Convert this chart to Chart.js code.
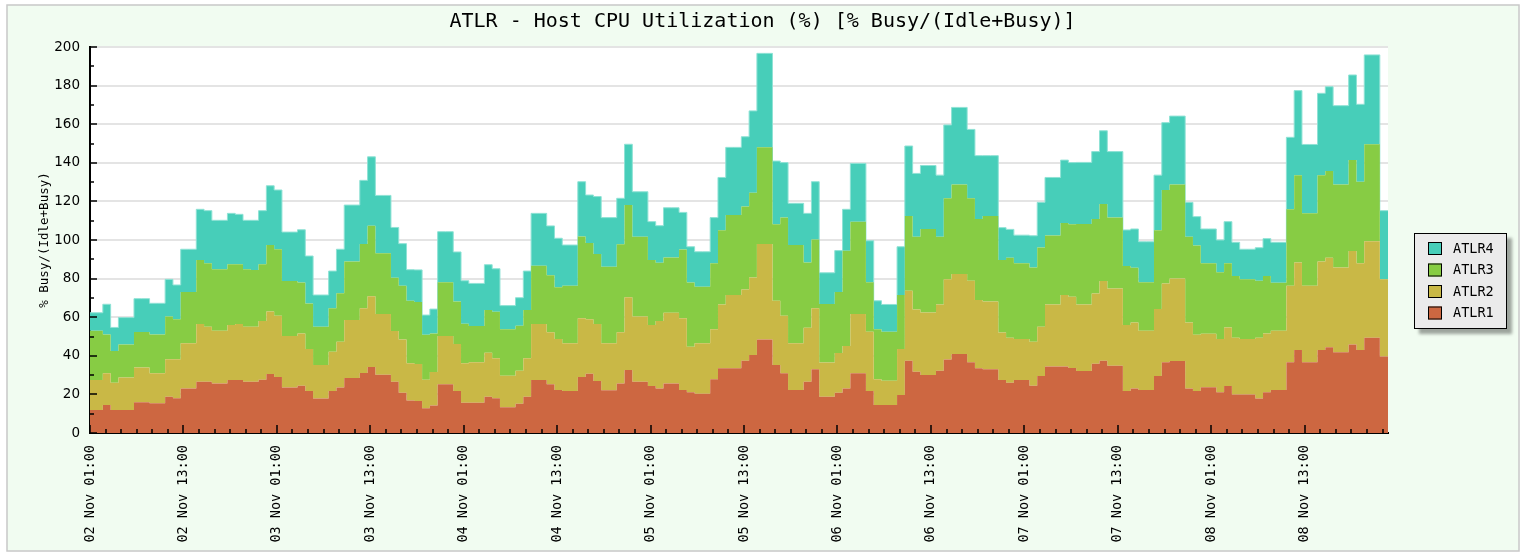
<!DOCTYPE html>
<html>
<head>
<meta charset="utf-8">
<title>ATLR - Host CPU Utilization</title>
<script src="https://cdn.jsdelivr.net/npm/chart.js@4.4.1/dist/chart.umd.min.js"></script>
<style>
  html, body { margin: 0; padding: 0; background: #fff; }
  #wrap { width: 1525px; height: 555px; }
</style>
</head>
<body>
<div id="wrap"><canvas id="cpu-chart" width="1525" height="555"></canvas></div>
<script>
// hourly samples, 02 Nov 01:00 onwards
const atlr1 = [
  11.9, 11.9, 14.5, 11.9, 11.9, 11.9, 15.9, 15.9, 15.4, 15.4, 18.8, 18.0, 23.1, 23.1, 26.6, 26.6, 25.7, 25.7, 27.4, 27.4,
  26.6, 26.6, 27.6, 30.6, 29.0, 23.6, 23.6, 24.5, 21.8, 17.9, 17.9, 21.8, 23.6, 28.5, 28.5, 31.1, 34.2, 30.2, 30.2, 26.6,
  20.9, 16.8, 16.6, 12.8, 14.3, 25.2, 25.2, 21.8, 15.7, 15.7, 15.7, 18.8, 18.0, 13.3, 13.3, 15.2, 18.8, 27.5, 27.5, 25.2,
  22.3, 21.8, 21.8, 29.0, 30.7, 27.0, 22.1, 22.1, 25.6, 32.6, 26.6, 26.6, 24.4, 23.1, 25.7, 25.7, 22.3, 21.1, 20.4, 20.4,
  27.8, 33.5, 33.5, 33.5, 37.5, 40.4, 48.5, 48.5, 35.2, 30.9, 22.3, 22.3, 26.6, 33.0, 18.8, 18.8, 20.9, 23.1, 30.9, 30.9,
  21.8, 14.5, 14.5, 14.5, 19.7, 37.5, 31.8, 30.1, 30.1, 32.3, 38.1, 40.9, 40.9, 36.6, 33.5, 33.0, 33.0, 27.5, 26.1, 27.5,
  27.5, 24.5, 29.5, 34.4, 34.4, 34.4, 33.7, 32.1, 32.1, 35.9, 37.5, 34.8, 34.8, 21.8, 23.1, 22.3, 22.3, 29.5, 36.6, 37.3,
  37.3, 23.1, 21.8, 23.7, 23.7, 21.1, 24.4, 20.0, 20.0, 20.0, 17.9, 21.1, 22.3, 22.3, 36.6, 43.0, 36.6, 36.6, 43.0, 44.4,
  41.8, 41.8, 45.9, 43.0, 49.4, 49.4, 39.6
];
const atlr2 = [
  15.6, 15.6, 16.4, 14.2, 16.9, 16.9, 18.0, 18.0, 15.5, 15.5, 19.4, 20.2, 23.4, 23.4, 29.9, 28.5, 27.3, 27.3, 28.6, 29.1,
  28.5, 28.5, 30.4, 32.3, 31.8, 26.6, 26.6, 27.1, 21.7, 17.3, 17.3, 20.3, 23.7, 30.0, 30.0, 33.5, 36.7, 31.4, 31.4, 26.3,
  27.6, 19.3, 19.2, 14.8, 17.3, 25.0, 25.0, 24.3, 20.4, 20.9, 20.9, 22.8, 20.7, 16.3, 16.3, 17.1, 19.9, 29.0, 29.0, 27.0,
  26.4, 24.7, 24.7, 30.4, 28.2, 29.5, 24.4, 24.4, 26.6, 37.7, 33.7, 33.7, 31.5, 34.9, 36.6, 36.6, 37.1, 23.6, 26.1, 26.1,
  25.9, 33.1, 38.0, 38.0, 36.9, 40.2, 49.4, 49.4, 33.3, 29.9, 24.2, 24.2, 27.9, 31.6, 17.7, 17.7, 20.6, 22.0, 30.7, 30.7,
  30.7, 13.3, 12.6, 12.6, 23.8, 36.2, 32.2, 32.4, 32.4, 34.3, 41.5, 41.5, 41.5, 42.3, 35.4, 35.1, 35.1, 24.6, 23.2, 21.2,
  21.2, 22.8, 25.6, 32.2, 32.2, 37.1, 36.9, 34.5, 34.5, 36.4, 41.3, 40.1, 40.1, 34.2, 34.1, 30.7, 30.7, 34.7, 40.9, 42.8,
  42.8, 34.1, 29.1, 27.7, 27.7, 27.6, 30.3, 29.4, 28.7, 28.7, 31.5, 30.5, 30.7, 30.7, 39.7, 45.4, 39.7, 39.7, 45.8, 46.4,
  44.0, 44.0, 48.4, 45.0, 50.0, 50.0, 40.0
];
const atlr3 = [
  25.5, 25.5, 20.2, 16.4, 17.1, 17.1, 18.4, 18.4, 20.1, 20.1, 22.1, 20.7, 26.6, 26.6, 33.1, 32.8, 31.8, 31.8, 31.4, 30.9,
  29.7, 29.4, 29.4, 34.5, 34.4, 28.5, 28.5, 26.4, 23.6, 19.9, 19.9, 22.5, 25.1, 30.3, 30.3, 33.3, 36.5, 31.5, 31.5, 27.6,
  27.8, 32.4, 32.1, 23.3, 20.0, 27.9, 27.9, 22.0, 20.5, 18.8, 18.8, 22.1, 24.1, 24.1, 24.1, 23.3, 25.0, 30.1, 30.1, 29.5,
  26.8, 29.8, 29.8, 42.4, 39.5, 36.2, 39.7, 39.7, 45.6, 47.8, 41.4, 41.4, 33.7, 30.2, 28.6, 28.6, 35.7, 33.3, 29.3, 29.3,
  34.2, 38.5, 41.5, 41.5, 43.0, 43.9, 50.1, 50.1, 39.6, 50.8, 50.9, 50.9, 33.8, 35.7, 30.3, 30.3, 31.6, 49.3, 47.9, 47.9,
  25.6, 25.9, 25.4, 25.4, 28.0, 38.7, 37.7, 43.2, 43.2, 35.1, 42.0, 46.4, 46.4, 42.7, 42.0, 44.3, 44.3, 37.5, 41.5, 39.2,
  39.2, 38.5, 41.0, 35.7, 35.7, 37.3, 37.5, 41.7, 41.7, 38.6, 39.9, 36.7, 36.7, 30.5, 28.4, 25.1, 25.1, 40.9, 48.4, 48.7,
  48.7, 44.5, 46.2, 36.5, 36.5, 34.6, 33.2, 31.9, 30.9, 30.9, 29.5, 29.7, 24.9, 24.9, 39.6, 45.2, 37.5, 37.5, 44.8, 44.9,
  43.0, 43.0, 47.1, 42.2, 50.2, 50.2, 0
];
const atlr4 = [
  9.3, 9.3, 15.6, 12.2, 13.9, 13.9, 17.3, 17.3, 16.2, 16.2, 19.3, 17.8, 22.1, 22.1, 26.3, 27.3, 25.4, 25.4, 26.4, 25.9,
  25.4, 25.7, 27.8, 30.7, 30.7, 25.4, 25.4, 27.3, 24.6, 16.4, 16.4, 19.3, 22.8, 29.3, 29.3, 33.0, 35.7, 30.0, 30.0, 26.0,
  21.8, 16.1, 16.6, 10.2, 12.6, 26.2, 26.2, 25.7, 22.3, 22.1, 22.1, 23.5, 22.3, 12.3, 12.3, 14.5, 20.2, 27.2, 27.2, 25.6,
  25.4, 21.1, 21.1, 28.4, 24.9, 29.8, 25.4, 25.4, 23.8, 31.5, 23.3, 23.3, 19.9, 19.2, 25.8, 25.8, 19.2, 18.5, 18.1, 18.1,
  23.7, 27.3, 35.0, 35.0, 36.1, 42.4, 48.7, 48.7, 32.8, 28.5, 21.6, 21.6, 25.5, 29.9, 16.2, 16.2, 21.4, 21.5, 30.2, 30.2,
  21.5, 14.8, 14.1, 14.1, 25.0, 36.3, 32.8, 32.9, 32.9, 31.9, 38.0, 39.9, 39.9, 35.7, 32.8, 31.3, 31.3, 16.8, 14.7, 14.6,
  14.6, 16.4, 23.4, 30.1, 30.1, 32.6, 32.0, 31.9, 31.9, 34.9, 37.9, 34.2, 34.2, 18.7, 20.1, 21.0, 21.0, 28.5, 34.9, 35.4,
  35.4, 17.8, 15.0, 17.8, 17.8, 16.7, 21.6, 17.5, 15.6, 15.6, 17.1, 19.4, 20.9, 20.9, 37.3, 43.8, 35.7, 35.7, 42.4, 43.7,
  40.8, 40.8, 44.1, 40.1, 46.3, 46.3, 35.6
];

const seriesNames = ['ATLR1', 'ATLR2', 'ATLR3', 'ATLR4'];
const seriesColors = ['#cd6741', '#c9b846', '#87cc44', '#47ceb9'];
const xTickLabels = [
  '02 Nov 01:00', '02 Nov 13:00', '03 Nov 01:00', '03 Nov 13:00', '04 Nov 01:00', '04 Nov 13:00', '05 Nov 01:00',
  '05 Nov 13:00', '06 Nov 01:00', '06 Nov 13:00', '07 Nov 01:00', '07 Nov 13:00', '08 Nov 01:00', '08 Nov 13:00'
];

const HOURS_SPAN = 166.7;   // hours shown after 02 Nov 01:00
const SAMPLE_LEAD = 0.35;   // a sample holds from ~20 min before its hour

// x in hours since 02 Nov 01:00, last sample held to the right edge
const toPoints = (values) => {
  const pts = values.map((v, i) => ({ x: Math.max(0, i - SAMPLE_LEAD), y: v }));
  pts.push({ x: HOURS_SPAN, y: values[values.length - 1] });
  return pts;
};

const datasets = [atlr1, atlr2, atlr3, atlr4].map((values, i) => ({
  label: seriesNames[i],
  data: toPoints(values),
  backgroundColor: seriesColors[i],
  borderColor: i === 3 ? '#8fe2d5' : seriesColors[i],
  borderWidth: i === 3 ? 1 : 0,
  fill: i === 0 ? 'origin' : '-1',
  stepped: true,
  pointRadius: 0,
  tension: 0,
}));

// mint panel, grey frame, white plot
const framePlugin = {
  id: 'frame',
  beforeDraw(chart) {
    const { ctx, chartArea: a } = chart;
    ctx.save();
    ctx.fillStyle = '#ffffff';
    ctx.fillRect(0, 0, chart.width, chart.height);
    ctx.fillStyle = '#f1fcf1';
    ctx.fillRect(7, 5, chart.width - 13, chart.height - 9);
    ctx.strokeStyle = '#c8c8c8';
    ctx.lineWidth = 1.5;
    ctx.strokeRect(7, 5, chart.width - 13, chart.height - 9);
    ctx.fillStyle = '#ffffff';
    ctx.fillRect(a.left, a.top, a.right - a.left, a.bottom - a.top);
    ctx.restore();
  }
};

// small inward tick marks, longer on labelled ticks
const tickMarks = {
  id: 'tickMarks',
  afterDatasetsDraw(chart) {
    const { ctx, chartArea: a, scales: { x, y } } = chart;
    ctx.save();
    ctx.strokeStyle = '#000';
    ctx.lineWidth = 1.5;
    ctx.beginPath();
    x.ticks.forEach(t => {
      const px = Math.round(x.getPixelForValue(t.value));
      const len = t.value % 12 === 0 ? 8 : 4;
      ctx.moveTo(px, a.bottom);
      ctx.lineTo(px, a.bottom - len);
    });
    y.ticks.forEach(t => {
      const py = Math.round(y.getPixelForValue(t.value));
      const len = t.value % 20 === 0 ? 7 : 4;
      ctx.moveTo(a.left, py);
      ctx.lineTo(a.left + len, py);
    });
    ctx.stroke();
    ctx.restore();
  }
};

// boxed legend with a drop shadow, top series first
const boxLegend = {
  id: 'boxLegend',
  afterDraw(chart) {
    const { ctx, chartArea: a } = chart;
    const items = chart.data.datasets.slice().reverse();
    const left = a.right + 26, top = 233, w = 93, h = 96;
    ctx.save();
    ctx.shadowColor = 'rgba(0,0,0,0.35)';
    ctx.shadowOffsetX = 5;
    ctx.shadowOffsetY = 5;
    ctx.shadowBlur = 3;
    ctx.fillStyle = '#ebebeb';
    ctx.fillRect(left, top, w, h);
    ctx.shadowColor = 'transparent';
    ctx.strokeStyle = '#000';
    ctx.lineWidth = 1;
    ctx.strokeRect(left + 0.5, top + 0.5, w - 1, h - 1);
    ctx.font = '13.5px "DejaVu Sans Mono"';
    ctx.textBaseline = 'middle';
    items.forEach((ds, i) => {
      const y = top + 9 + i * 21.5;
      ctx.fillStyle = ds.backgroundColor;
      ctx.fillRect(left + 14, y, 14, 13);
      ctx.strokeRect(left + 14.5, y + 0.5, 13, 12);
      ctx.fillStyle = '#000';
      ctx.fillText(ds.label, left + 39, y + 7);
    });
    ctx.restore();
  }
};

const cpuChart = new Chart(document.getElementById('cpu-chart'), {
  type: 'line',
  data: { datasets: datasets },
  options: {
    responsive: false,
    animation: false,
    devicePixelRatio: 1,
    layout: { padding: 0 },
    plugins: {
      title: {
        display: true,
        text: 'ATLR - Host CPU Utilization (%) [% Busy/(Idle+Busy)]',
        color: '#000',
        font: { family: 'DejaVu Sans Mono', size: 20, weight: 'normal' },
        padding: { top: 10, bottom: 13 },
      },
      legend: { display: false },
      tooltip: { enabled: false },
    },
    scales: {
      x: {
        type: 'linear',
        min: 0,
        max: HOURS_SPAN,
        grid: { display: false, drawTicks: false },
        border: { display: true, color: '#000', width: 2 },
        ticks: {
          stepSize: 2,
          includeBounds: false,
          autoSkip: false,
          minRotation: 90,
          maxRotation: 90,
          padding: 12,
          color: '#000',
          font: { family: 'DejaVu Sans Mono', size: 13.5 },
          callback: (v) => (v % 12 === 0 ? xTickLabels[v / 12] : ''),
        },
        afterFit: (s) => { s.height = 122; },
      },
      y: {
        stacked: true,
        min: 0,
        max: 200,
        grid: {
          drawTicks: false,
          lineWidth: 2,
          color: (ctx) => (ctx.tick && ctx.tick.value % 20 === 0 ? '#e4e4e4' : 'rgba(0,0,0,0)'),
        },
        border: { display: true, color: '#000', width: 2 },
        ticks: {
          stepSize: 10,
          padding: 10,
          color: '#000',
          font: { family: 'DejaVu Sans', size: 13.5 },
          callback: (v) => (v % 20 === 0 ? v : ''),
        },
        title: {
          display: true,
          text: '% Busy/(Idle+Busy)',
          color: '#000',
          font: { family: 'DejaVu Sans Mono', size: 12.5 },
          padding: { top: 37, bottom: 0 },
        },
        afterFit: (s) => { s.width = 90; },
      },
      // empty strip on the right that holds the legend box
      legendSpace: {
        type: 'linear',
        position: 'right',
        display: true,
        grid: { display: false, drawTicks: false },
        border: { display: false },
        ticks: { display: false },
        afterFit: (s) => { s.width = 137; },
      },
    },
  },
  plugins: [framePlugin, tickMarks, boxLegend],
});
</script>
</body>
</html>
